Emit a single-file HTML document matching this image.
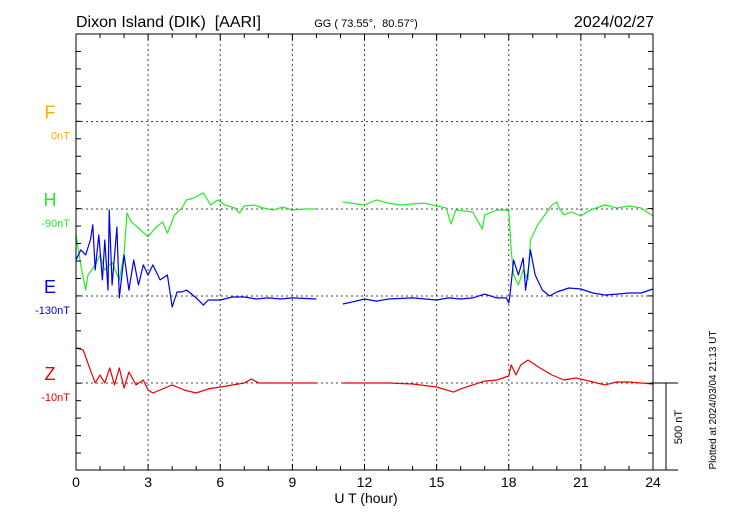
<!DOCTYPE html>
<html><head><meta charset="utf-8"><style>
body{margin:0;background:#fff;}
svg{display:block;font-family:"Liberation Sans",sans-serif;}
</style></head><body>
<svg id="chart" width="730" height="520" viewBox="0 0 730 520" xmlns="http://www.w3.org/2000/svg">
<text x="76" y="27" font-size="16" style="white-space:pre">Dixon Island (DIK)  [AARI]</text>
<text x="366" y="27" font-size="11" text-anchor="middle" style="white-space:pre">GG ( 73.55°,  80.57°)</text>
<text x="654" y="27" font-size="16" text-anchor="end">2024/02/27</text>
<g id="grid"></g>
<g id="series"></g>
<g id="axes"></g>
<text x="366" y="503" font-size="14" text-anchor="middle">U T (hour)</text>
<text transform="translate(682,427) rotate(-90)" font-size="11" text-anchor="middle">500 nT</text>
<text transform="translate(716,400) rotate(-90)" font-size="10" text-anchor="middle">Plotted at 2024/03/04 21:13 UT</text>
</svg>
<script>
const hT=[0,0.2,0.4,0.5,0.8,1.0,1.2,1.5,1.8,2.0,2.12,2.3,2.6,3.0,3.3,3.6,3.8,4.1,4.4,4.6,4.9,5.3,5.6,5.9,6.2,6.6,6.8,7.0,7.4,7.8,8.2,8.6,9.0,9.5,10,10.5,11.1,12,12.5,13,13.5,14,14.5,15,15.4,15.6,15.8,16.5,16.9,17.0,17.5,17.9,18.0,18.1,18.2,18.4,18.6,18.8,18.9,19.2,19.5,19.8,20.0,20.1,20.3,20.6,21.0,21.4,22,22.5,23,23.5,24];
const hV=[-149,-321,-464,-378,-321,-264,-350,-304,-407,-252,-23,-74,-109,-160,-109,-74,-138,-34,6,52,63,92,23,52,23,6,-23,17,23,6,-6,11,-6,0,0,null,40,23,52,34,23,29,34,17,6,-86,-6,-17,-115,-34,-6,-6,-17,-235,-378,-435,-350,-407,-178,-92,-34,23,40,6,-34,-17,-40,-6,23,6,17,6,-40];
const eT=[0,0.2,0.4,0.6,0.7,0.8,0.95,1.1,1.2,1.33,1.38,1.5,1.7,1.8,2.0,2.2,2.4,2.6,2.8,3.0,3.2,3.5,3.8,4.0,4.2,4.4,4.6,5.0,5.3,5.5,6.0,6.5,7,7.5,8,8.5,9,10,10.5,11.1,11.5,12,12.5,13,14,15,15.5,16,16.5,17,17.5,17.9,18.0,18.05,18.2,18.4,18.6,18.7,18.8,18.9,19.1,19.4,19.7,20,20.5,21,21.5,22,22.5,23,23.5,24];
const eV=[206,264,235,321,407,149,350,92,321,34,493,63,395,-11,235,34,206,63,178,120,178,92,120,-63,23,23,34,-11,-52,-23,-23,-6,-6,-17,-11,-17,-11,-17,null,-46,-34,-17,-29,-17,-11,-23,-11,-17,-11,11,-11,-11,-40,6,206,120,218,34,138,264,120,34,0,23,46,40,17,6,11,17,17,40];
const zT=[0,0.3,0.6,0.8,1.0,1.2,1.4,1.6,1.8,2.0,2.2,2.5,2.8,3.0,3.2,3.5,4.0,4.5,5.0,5.5,6.0,7.0,7.3,7.6,8,9,10,10.5,11.1,13,14,15,15.7,16,16.5,17,17.5,18.0,18.1,18.3,18.5,18.8,19.3,19.8,20.3,20.8,21.5,22,22.5,23,24];
const zV=[201,189,74,0,46,0,86,-11,86,-29,63,-11,17,-40,-57,-40,-11,-40,-57,-34,-23,0,23,0,0,0,0,null,0,0,-6,-23,-52,-34,-11,11,17,40,103,46,103,132,86,46,17,29,6,-11,6,6,-6];
const xTickLabels=["0","3","6","9","12","15","18","21","24"];
const compNames=["F","H","E","Z"];
const compBase=["0nT","-90nT","-130nT","-10nT"];
const compColors=["#f5b000","#22ee22","#0000ee","#ee0000"];

const X0=76,X1=653,Y0=34,Y1=470;
const baseY=[121.5,209,296,383];
const pxPerNT=87.3/500;
const xs=h=>X0+h*(X1-X0)/24;
const ys=(i,v)=>baseY[i]-v*pxPerNT;
const NS="http://www.w3.org/2000/svg";
function mk(tag,attrs,parent){const e=document.createElementNS(NS,tag);for(const k in attrs)e.setAttribute(k,attrs[k]);parent.appendChild(e);return e;}
const grid=document.getElementById('grid'),series=document.getElementById('series'),axes=document.getElementById('axes'),svg=document.getElementById('chart');

for(let h=3;h<24;h+=3){
 const l=mk('line',{x1:xs(h),x2:xs(h),y1:Y0,y2:Y1,stroke:'#444','stroke-width':1,'stroke-dasharray':'2,3'},grid);
 
 
}
compNames.forEach((n,i)=>{
 const l=mk('line',{x1:X0,x2:X1,y1:baseY[i],y2:baseY[i],stroke:'#444','stroke-width':1,'stroke-dasharray':'2,3'},grid);
 
 
 const t=mk('text',{x:50,y:baseY[i]-3,'font-size':18,'text-anchor':'middle',fill:compColors[i]},svg);
 t.textContent=n;
 
 
 const b=mk('text',{x:70,y:baseY[i]+18,'font-size':11,'text-anchor':'end',fill:compColors[i]},svg);
 b.textContent=compBase[i];
 
 
});
function drawSeries(T,V,idx,name){
 let d='',pen=false;
 for(let k=0;k<T.length;k++){
  if(V[k]===null){pen=false;continue;}
  d+=(pen?'L':'M')+xs(T[k]).toFixed(1)+','+ys(idx,V[k]).toFixed(1);pen=true;
 }
 const p=mk('path',{d:d,fill:'none',stroke:compColors[idx],'stroke-width':1.2,'stroke-linejoin':'round'},series);
 
 
}
drawSeries(hT,hV,1,'h-component-line');
drawSeries(eT,eV,2,'e-component-line');
drawSeries(zT,zV,3,'z-component-line');
const fr=mk('rect',{x:X0,y:Y0,width:X1-X0,height:Y1-Y0,fill:'none',stroke:'#000','stroke-width':1},axes);


for(let h=0;h<=24;h++){
 const len=(h%3===0)?6:4;
 mk('line',{x1:xs(h),x2:xs(h),y1:Y1,y2:Y1-len,stroke:'#000'},axes);
 mk('line',{x1:xs(h),x2:xs(h),y1:Y0,y2:Y0+len,stroke:'#000'},axes);
}
xTickLabels.forEach((lab,k)=>{
 const t=mk('text',{x:xs(k*3),y:487,'font-size':14,'text-anchor':'middle'},axes);
 t.textContent=lab;
 
 
});
for(let y=Y0+17.46;y<Y1;y+=17.46){
 mk('line',{x1:X0,x2:X0+5,y1:y,y2:y,stroke:'#000'},axes);
 mk('line',{x1:X1,x2:X1-5,y1:y,y2:y,stroke:'#000'},axes);
}
mk('line',{x1:X1,x2:678,y1:Y1,y2:Y1,stroke:'#000'},axes);
mk('line',{x1:X1,x2:678,y1:baseY[3],y2:baseY[3],stroke:'#000'},axes);
const sb=mk('line',{x1:666,x2:666,y1:baseY[3],y2:Y1,stroke:'#000'},axes);


</script>
</body></html>
